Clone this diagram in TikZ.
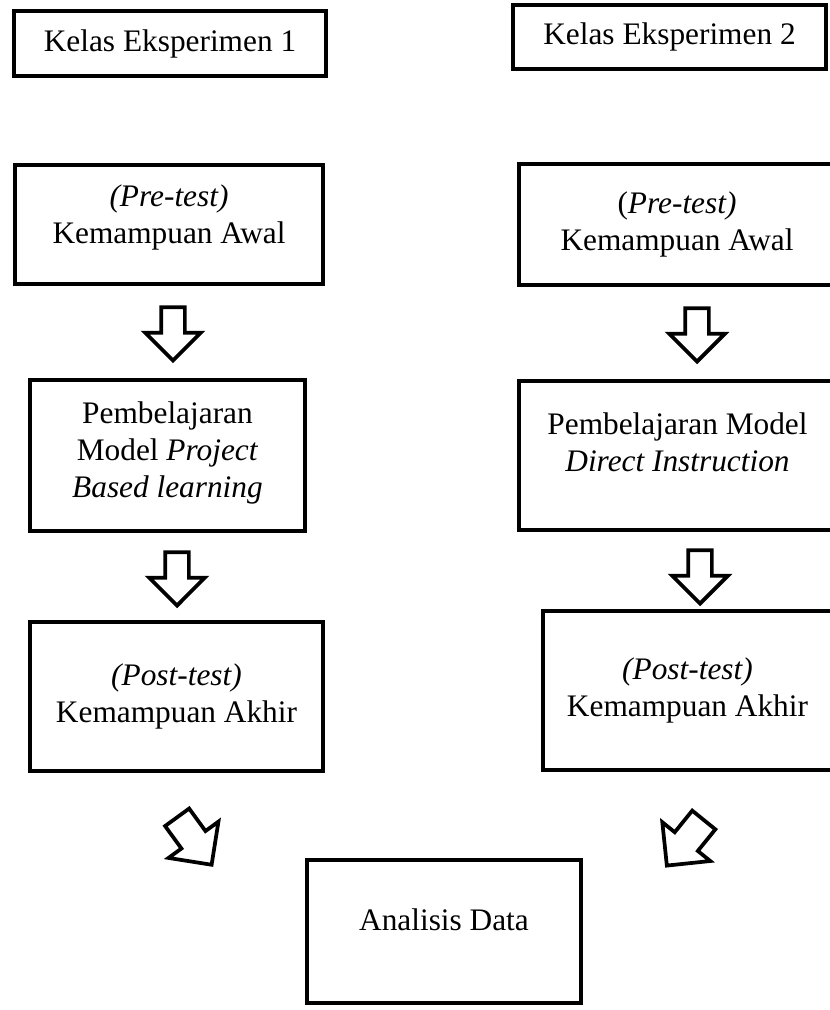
\documentclass[tikz,border=0pt]{standalone}
\usepackage{fontspec}
\setmainfont{Liberation Serif}
\usetikzlibrary{shapes.arrows}
\tikzset{
  every node/.style={font=\fontsize{23.5}{27.5}\selectfont,text=black},
  box/.style={draw=black,line width=3pt,fill=white,align=center,inner sep=2pt},
  lift/.style 2 args={text height=#1,text depth=#2},
  flow/.style={single arrow,draw=black,line width=2.8pt,fill=white,inner xsep=0pt,inner ysep=7.5pt,
    minimum width=0pt,minimum height=40pt,single arrow head extend=12pt},
  slant/.style={flow,inner ysep=9.75pt,minimum height=44pt}
}
\begin{document}
\begin{tikzpicture}[x=0.75pt,y=-0.75pt]
  \useasboundingbox (0,0) rectangle (830,1010);

  % kelas eksperimen 1
  \node[box,minimum width=234pt,minimum height=48.75pt] (kelasA) at (170,43.5) {Kelas Eksperimen 1};
  \node[box,minimum width=231pt,minimum height=89.25pt,lift={43.5pt}{15.4pt}] (preA) at (169,224.5) {\textit{(Pre-test)}\\Kemampuan Awal};
  \node[box,minimum width=206.25pt,minimum height=113.25pt,lift={71pt}{8.6pt}] (pblA) at (167.5,455.5) {Pembelajaran\\Model \textit{Project}\\\textit{Based learning}};
  \node[box,minimum width=219.75pt,minimum height=111.75pt] (postA) at (176.5,696.5) {\textit{(Post-test)}\\Kemampuan Akhir};

  % kelas eksperimen 2
  \node[box,minimum width=234.75pt,minimum height=48pt] (kelasB) at (669.5,37) {Kelas Eksperimen 2};
  \node[box,minimum width=237pt,minimum height=90.75pt] (preB) at (677,224.5) {(\textit{Pre-test)}\\Kemampuan Awal};
  \node[box,minimum width=237.75pt,minimum height=111.75pt,lift={43.5pt}{19.9pt}] (diB) at (677.5,455.5) {Pembelajaran Model\\\textit{Direct Instruction}};
  \node[box,minimum width=216.75pt,minimum height=119.25pt] (postB) at (687.5,690.5) {\textit{(Post-test)}\\Kemampuan Akhir};

  \node[box,minimum width=205.5pt,minimum height=107.25pt,lift={16pt}{16.9pt}] (analisis) at (444,931.5) {Analisis Data};

  % panah blok
  \node[flow,rotate=-90] (arrA1) at (173,328) {};
  \node[flow,rotate=-90] (arrA2) at (177,573) {};
  \node[flow,rotate=-90] (arrB1) at (697,329) {};
  \node[flow,rotate=-90] (arrB2) at (700,571) {};
  \node[slant,rotate=-54] (arrA3) at (190,835) {};
  \node[slant,rotate=-129] (arrB3) at (690,837) {};
\end{tikzpicture}
\end{document}
